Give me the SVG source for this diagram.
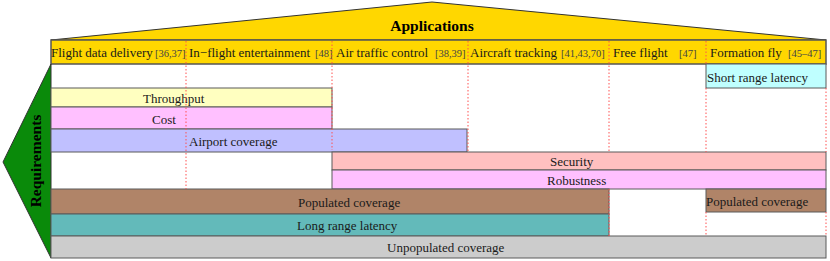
<svg xmlns="http://www.w3.org/2000/svg" width="830" height="261" viewBox="0 0 830 261">
<style>
text{font-family:"Liberation Serif","Times New Roman",serif;fill:#1a1a1a}
.h{font-size:13px}
.r{font-size:10.5px;fill:#444}
.b{font-size:13px}
.t{font-size:15.5px;font-weight:bold;fill:#000}
.bar{stroke:#5a5a5a;stroke-width:1}
.div{stroke:#ff5050;stroke-width:1;stroke-dasharray:1.5,2}
</style>
<rect width="830" height="261" fill="#fff"/>
<g id="applications">
<polygon points="51,40 432,2 826,40" fill="#ffd700" stroke="#333" stroke-width="1"/>
<rect x="51" y="40" width="775" height="24" fill="#ffd700" stroke="#555" stroke-width="1.5"/>
<text class="t" x="432" y="31" text-anchor="middle">Applications</text>
</g>
<g id="requirements">
<polygon points="51,64 3,162 51,258" fill="#0a8a0a" stroke="#333" stroke-width="1"/>
<text class="t" transform="translate(41,161) rotate(-90)" text-anchor="middle">Requirements</text>
</g>
<g id="app-flight-data-delivery"><text class="h" x="51" y="57">Flight data delivery</text><text class="r" x="155" y="57">[36,37]</text></g>
<g id="app-in-flight-entertainment"><text class="h" x="189" y="57">In−flight entertainment</text><text class="r" x="315" y="57">[48]</text></g>
<g id="app-air-traffic-control"><text class="h" x="336" y="57">Air traffic control</text><text class="r" x="435" y="57">[38,39]</text></g>
<g id="app-aircraft-tracking"><text class="h" x="470" y="57">Aircraft tracking</text><text class="r" x="561" y="57">[41,43,70]</text></g>
<g id="app-free-flight"><text class="h" x="613" y="57">Free flight</text><text class="r" x="679" y="57">[47]</text></g>
<g id="app-formation-fly"><text class="h" x="710" y="57">Formation fly</text><text class="r" x="788" y="57">[45–47]</text></g>
<g id="req-short-range-latency"><rect class="bar" x="706" y="64" width="120" height="24" fill="#bfffff"/><text class="b" x="707" y="82">Short range latency</text></g>
<g id="req-throughput"><rect class="bar" x="51" y="88" width="281" height="19" fill="#ffffc0"/><text class="b" x="143" y="103">Throughput</text></g>
<g id="req-cost"><rect class="bar" x="51" y="107" width="281" height="22" fill="#ffc0ff"/><text class="b" x="152" y="124">Cost</text></g>
<g id="req-airport-coverage"><rect class="bar" x="51" y="129" width="416" height="23" fill="#c0c0ff"/><text class="b" x="189" y="146">Airport coverage</text></g>
<g id="req-security"><rect class="bar" x="332" y="152" width="494" height="18" fill="#ffc0c0"/><text class="b" x="550" y="166">Security</text></g>
<g id="req-robustness"><rect class="bar" x="332" y="170" width="494" height="19" fill="#ffc0ff"/><text class="b" x="547" y="185">Robustness</text></g>
<g id="req-populated-coverage"><rect class="bar" x="51" y="189" width="558" height="25" fill="#b08468"/><text class="b" x="298" y="207">Populated coverage</text></g>
<g id="req-populated-coverage-2"><rect class="bar" x="706" y="189" width="120" height="23" fill="#b08468"/><text class="b" x="706" y="206">Populated coverage</text></g>
<g id="req-long-range-latency"><rect class="bar" x="51" y="214" width="558" height="22" fill="#63baba"/><text class="b" x="297" y="230">Long range latency</text></g>
<g id="req-unpopulated-coverage"><rect class="bar" x="51" y="236" width="775" height="22" fill="#cccccc"/><text class="b" x="387" y="252">Unpopulated coverage</text></g>
<g id="connectors">
<line class="div" x1="186" y1="41" x2="186" y2="189"/>
<line class="div" x1="332" y1="41" x2="332" y2="150"/>
<line class="div" x1="468" y1="41" x2="468" y2="152"/>
<line class="div" x1="609" y1="41" x2="609" y2="152"/>
<line class="div" x1="609" y1="189" x2="609" y2="236"/>
<line class="div" x1="706" y1="41" x2="706" y2="64"/>
<line class="div" x1="706" y1="88" x2="706" y2="152"/>
<line class="div" x1="706" y1="212" x2="706" y2="236"/>
<line class="div" x1="826" y1="88" x2="826" y2="152"/>
<line class="div" x1="826" y1="212" x2="826" y2="236"/>
</g>
</svg>
